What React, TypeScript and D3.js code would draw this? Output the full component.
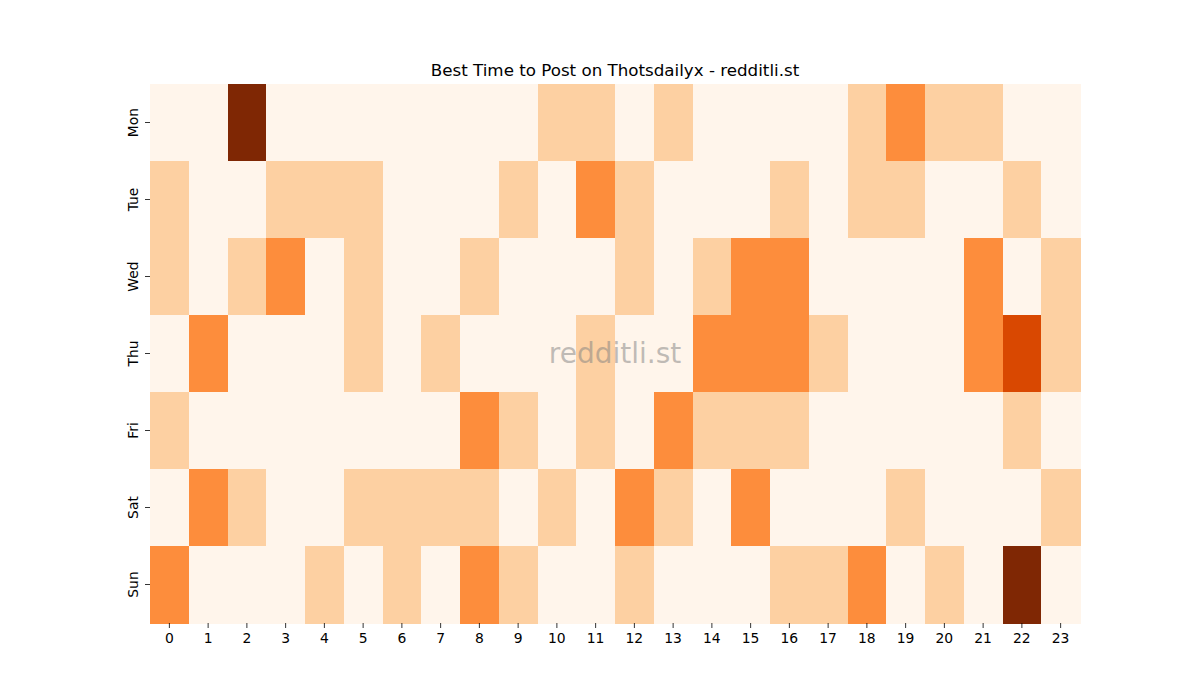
import * as d3 from "d3";

const days = ["Mon", "Tue", "Wed", "Thu", "Fri", "Sat", "Sun"];
const hours = d3.range(24).map(String);

// activity level per hour (0-4)
const mon = [0, 0, 4, 0, 0, 0, 0, 0, 0, 0, 1, 1, 0, 1, 0, 0, 0, 0, 1, 2, 1, 1, 0, 0];
const tue = [1, 0, 0, 1, 1, 1, 0, 0, 0, 1, 0, 2, 1, 0, 0, 0, 1, 0, 1, 1, 0, 0, 1, 0];
const wed = [1, 0, 1, 2, 0, 1, 0, 0, 1, 0, 0, 0, 1, 0, 1, 2, 2, 0, 0, 0, 0, 2, 0, 1];
const thu = [0, 2, 0, 0, 0, 1, 0, 1, 0, 0, 0, 1, 0, 0, 2, 2, 2, 1, 0, 0, 0, 2, 3, 1];
const fri = [1, 0, 0, 0, 0, 0, 0, 0, 2, 1, 0, 1, 0, 2, 1, 1, 1, 0, 0, 0, 0, 0, 1, 0];
const sat = [0, 2, 1, 0, 0, 1, 1, 1, 1, 0, 1, 0, 2, 1, 0, 2, 0, 0, 0, 1, 0, 0, 0, 1];
const sun = [2, 0, 0, 0, 1, 0, 1, 0, 2, 1, 0, 0, 1, 0, 0, 0, 1, 1, 2, 0, 1, 0, 4, 0];
const grid = [mon, tue, wed, thu, fri, sat, sun];

const width = 1200;
const height = 700;
const margin = { top: 84, right: 120, bottom: 77, left: 150 };

export default function App() {
  const x = d3
    .scaleBand()
    .domain(hours)
    .range([margin.left, width - margin.right]);
  const y = d3
    .scaleBand()
    .domain(days)
    .range([margin.top, height - margin.bottom]);
  const color = d3
    .scaleLinear<string>()
    .domain([0, 1, 2, 3, 4])
    .range(["#fff5eb", "#fdd0a2", "#fd8d3c", "#d94801", "#7f2704"]);

  const cells = grid.flatMap((row, i) =>
    row.map((v, j) => ({ day: days[i], hour: hours[j], v }))
  );
  const plotBottom = height - margin.bottom;
  const cx = (margin.left + width - margin.right) / 2;
  const cy = (margin.top + plotBottom) / 2;

  return (
    <svg
      width={width}
      height={height}
      style={{ position: "absolute", left: 0, top: 0, fontFamily: "DejaVu Sans" }}
    >
      <rect width={width} height={height} fill="#fff" />
      <g shapeRendering="crispEdges">
        {cells.map((c, i) => (
          <rect
            key={i}
            x={x(c.hour)}
            y={y(c.day)}
            width={x.bandwidth() + 0.5}
            height={y.bandwidth() + 0.5}
            fill={color(c.v)}
          />
        ))}
      </g>
      <text
        x={cx}
        y={cy}
        textAnchor="middle"
        dominantBaseline="central"
        fontSize={28}
        fill="#808080"
        fillOpacity={0.5}
      >
        redditli.st
      </text>
      <text x={cx} y={76} textAnchor="middle" fontSize={16.7} fill="#000">
        Best Time to Post on Thotsdailyx - redditli.st
      </text>
      <g fontSize={13.9} fill="#000">
        {hours.map((h) => {
          const px = x(h)! + x.bandwidth() / 2;
          return (
            <g key={h}>
              <line x1={px} x2={px} y1={plotBottom} y2={plotBottom + 5} stroke="#000" strokeWidth={0.8} />
              <text x={px} y={plotBottom + 20} textAnchor="middle">
                {h}
              </text>
            </g>
          );
        })}
        {days.map((d) => {
          const py = y(d)! + y.bandwidth() / 2;
          return (
            <g key={d}>
              <line x1={margin.left - 5} x2={margin.left} y1={py} y2={py} stroke="#000" strokeWidth={0.8} />
              <text
                transform={`translate(${margin.left - 12},${py}) rotate(-90)`}
                textAnchor="middle"
              >
                {d}
              </text>
            </g>
          );
        })}
      </g>
    </svg>
  );
}
